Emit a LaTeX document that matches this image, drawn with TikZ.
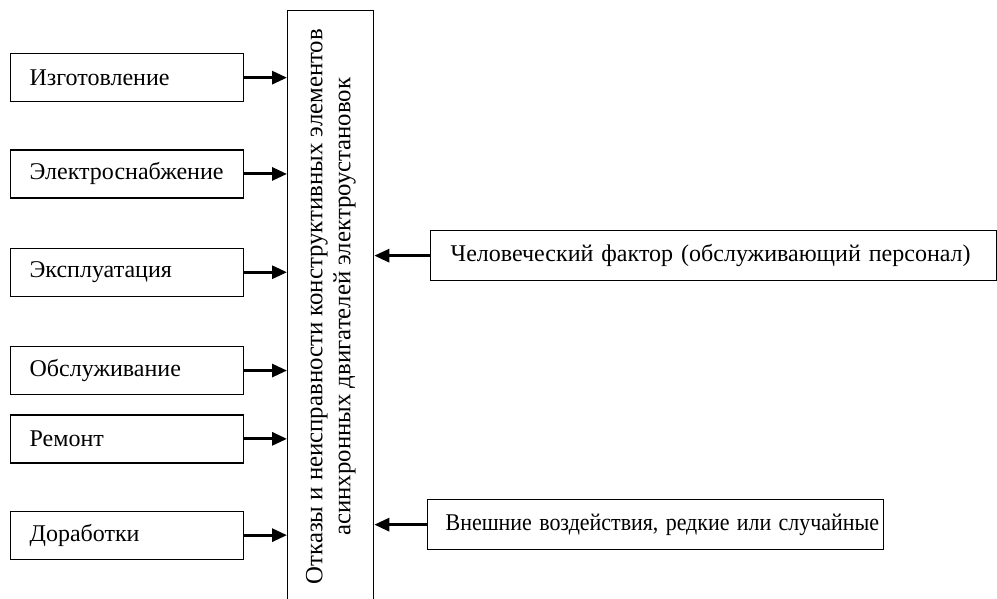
\documentclass[tikz,border=0pt]{standalone}
\usepackage{fontspec}
\setmainfont{Liberation Serif}
\usepackage{graphicx}
\usetikzlibrary{arrows.meta,positioning}

\begin{document}
\begin{tikzpicture}[x=1pt, y=-1pt,
  box/.style={draw, line width=1.3pt, minimum height=48pt, text width=195pt,
              inner xsep=19pt, align=left, anchor=north west,
              font=\fontsize{24}{27}\selectfont},
  rbox/.style={box, minimum height=50pt, inner xsep=20pt},
  mainbox/.style={draw, line width=1.3pt, minimum width=86pt, minimum height=592pt,
                  inner sep=0pt, anchor=north west, font=\fontsize{24.8}{28}\selectfont},
  arr/.style={-{Triangle[length=15pt,width=13pt]}, line width=3pt},
]
\useasboundingbox (0,0) rectangle (997,599);

\node[mainbox] (main) at (287,10) {\rotatebox{90}{\begin{tabular}{@{}c@{}}
  Отказы и неисправности конструктивных элементов\\
  асинхронных двигателей электроустановок\end{tabular}}};

\node[box] (izg) at (10,53) {Изготовление};
\node[box, below=47pt of izg.south west, anchor=north west] (ele) {Электроснабжение};
\node[box, below=49pt of ele.south west, anchor=north west] (eks) {Эксплуатация};
\node[box, below=49pt of eks.south west, anchor=north west] (obs) {Обслуживание};
\node[box, below=19pt of obs.south west, anchor=north west] (rem) {Ремонт};
\node[box, below=47pt of rem.south west, anchor=north west] (dor) {Доработки};

\node[rbox, text width=526pt] (hum) at (430,230) {Человеческий фактор (обслуживающий персонал)};
\node[rbox, text width=446pt, inner xsep=5pt] (ext) at (427,499)
  {\hspace*{13pt}\scalebox{0.915}[1]{Внешние воздействия, редкие или случайные}};

\foreach \n in {izg,ele,eks,obs,rem,dor}
  \draw[arr] (\n.east) -- (\n.east -| main.west);
\draw[arr] (hum.west) -- (hum.west -| main.east);
\draw[arr] (ext.west) -- (ext.west -| main.east);
\end{tikzpicture}
\end{document}
